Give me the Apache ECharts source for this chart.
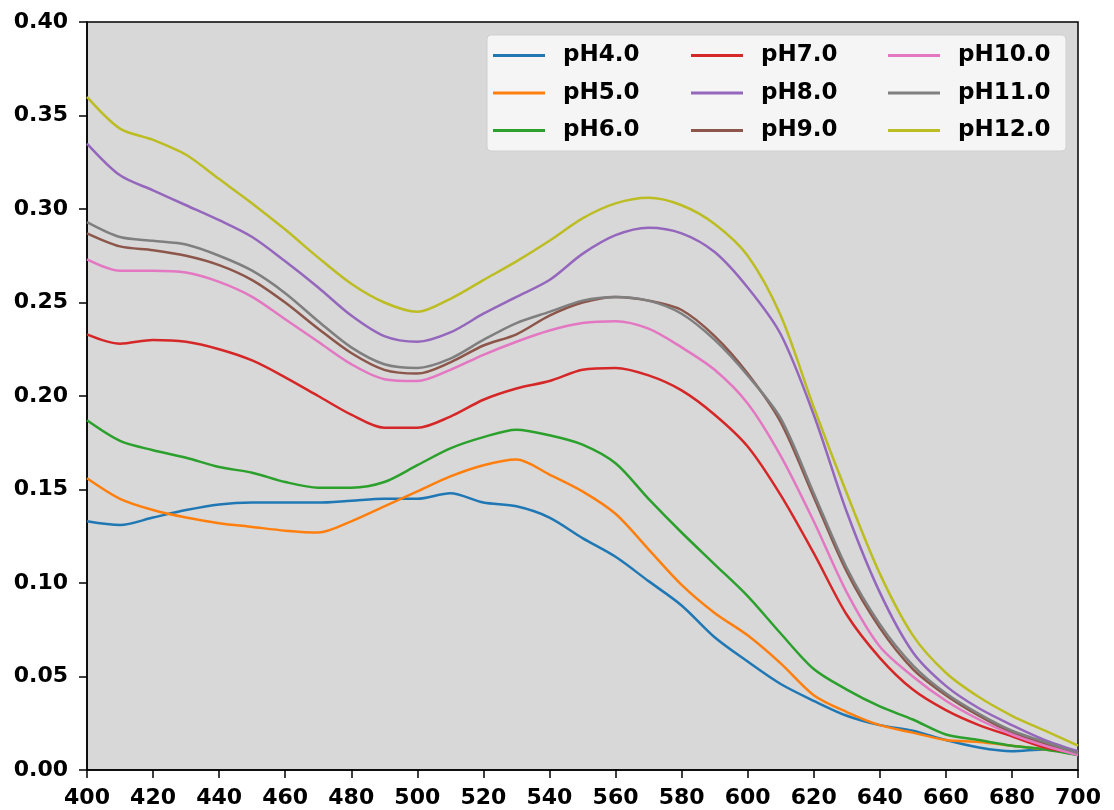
<!DOCTYPE html>
<html>
<head>
<meta charset="utf-8">
<script src="https://cdn.jsdelivr.net/npm/echarts@6/dist/echarts.min.js"></script>
<style>html,body{margin:0;padding:0;background:#fff}#c{width:1114px;height:810px}</style>
</head>
<body>
<div id="c"></div>
<script>
const wavelengths = [400,410,420,430,440,450,460,470,480,490,500,510,520,530,540,550,560,570,580,590,600,610,620,630,640,650,660,670,680,690,700];
const seriesNames = ['pH4.0','pH5.0','pH6.0','pH7.0','pH8.0','pH9.0','pH10.0','pH11.0','pH12.0'];
const pH4 = [0.133,0.131,0.135,0.139,0.142,0.143,0.143,0.143,0.144,0.145,0.145,0.148,0.143,0.141,0.135,0.124,0.114,0.101,0.088,0.071,0.058,0.046,0.037,0.029,0.024,0.021,0.016,0.012,0.010,0.011,0.008];
const pH5 = [0.156,0.145,0.139,0.135,0.132,0.130,0.128,0.127,0.133,0.141,0.149,0.157,0.163,0.166,0.158,0.149,0.137,0.118,0.099,0.084,0.072,0.057,0.040,0.031,0.024,0.020,0.016,0.015,0.013,0.011,0.009];
const pH6 = [0.187,0.176,0.171,0.167,0.162,0.159,0.154,0.151,0.151,0.154,0.163,0.172,0.178,0.182,0.179,0.174,0.164,0.145,0.127,0.110,0.093,0.073,0.054,0.043,0.034,0.027,0.019,0.016,0.013,0.011,0.008];
const pH7 = [0.233,0.228,0.230,0.229,0.225,0.219,0.210,0.200,0.190,0.183,0.183,0.189,0.198,0.204,0.208,0.214,0.215,0.211,0.203,0.190,0.173,0.147,0.116,0.083,0.060,0.043,0.032,0.024,0.018,0.012,0.009];
const pH8 = [0.335,0.318,0.310,0.302,0.294,0.285,0.272,0.258,0.243,0.232,0.229,0.234,0.244,0.253,0.262,0.276,0.286,0.290,0.287,0.277,0.258,0.233,0.190,0.138,0.095,0.063,0.045,0.033,0.024,0.016,0.010];
const pH9 = [0.287,0.280,0.278,0.275,0.270,0.262,0.250,0.236,0.223,0.214,0.212,0.218,0.227,0.233,0.243,0.250,0.253,0.251,0.246,0.232,0.212,0.186,0.146,0.106,0.076,0.054,0.040,0.029,0.020,0.014,0.009];
const pH10 = [0.273,0.267,0.267,0.266,0.261,0.253,0.241,0.229,0.217,0.209,0.208,0.214,0.222,0.229,0.235,0.239,0.240,0.236,0.226,0.214,0.196,0.168,0.133,0.095,0.066,0.050,0.037,0.027,0.019,0.013,0.008];
const pH11 = [0.293,0.285,0.283,0.281,0.275,0.267,0.255,0.240,0.226,0.217,0.215,0.220,0.230,0.239,0.245,0.251,0.253,0.251,0.244,0.230,0.211,0.188,0.148,0.108,0.078,0.056,0.041,0.030,0.021,0.015,0.009];
const pH12 = [0.360,0.343,0.337,0.329,0.316,0.303,0.289,0.274,0.260,0.250,0.245,0.252,0.262,0.272,0.283,0.295,0.303,0.306,0.302,0.292,0.275,0.243,0.194,0.148,0.105,0.072,0.052,0.039,0.029,0.021,0.013];
const colors = ['#1f77b4','#ff7f0e','#2ca02c','#d62728','#9467bd','#8c564b','#e377c2','#7f7f7f','#bcbd22'];
const allValues = [pH4,pH5,pH6,pH7,pH8,pH9,pH10,pH11,pH12];

const FONT = 'DejaVu Sans';
const chart = echarts.init(document.getElementById('c'), null, {renderer:'canvas'});
const legendText = {fontFamily: FONT, fontWeight: 'bold', fontSize: 23, color: '#000', padding: [0,0,0,13]};
function mkLegend(names, left){
  return {
    orient: 'vertical', left: left, top: 44, itemWidth: 52, itemHeight: 3, itemGap: 14.5,
    icon: 'rect', textStyle: legendText, data: names, selectedMode: false, padding: 0
  };
}
chart.setOption({
  animation: false,
  color: colors,
  grid: {left: 87, right: 36, top: 22, bottom: 40, show: true, backgroundColor: '#d8d8d8', borderColor: '#000', borderWidth: 1.5},
  xAxis: {
    type: 'value', min: 400, max: 700, interval: 20,
    axisLine: {show: true, lineStyle: {color: '#000', width: 1.5}},
    axisTick: {show: true, length: 8, lineStyle: {color: '#000', width: 1.5}},
    axisLabel: {fontFamily: FONT, fontWeight: 'bold', fontSize: 22, color: '#000', margin: 17},
    splitLine: {show: false}
  },
  yAxis: {
    type: 'value', min: 0, max: 0.4, interval: 0.05,
    axisLine: {show: true, lineStyle: {color: '#000', width: 1.5}},
    axisTick: {show: true, length: 8, lineStyle: {color: '#000', width: 1.5}},
    axisLabel: {fontFamily: FONT, fontWeight: 'bold', fontSize: 22, color: '#000', margin: 19, formatter: v => v.toFixed(2)},
    splitLine: {show: false}
  },
  graphic: [{
    type: 'rect', shape: {x: 487, y: 35, width: 579, height: 116, r: 4}, z: 3,
    style: {fill: 'rgba(250,250,250,0.85)', stroke: '#cfcfcf', lineWidth: 1}
  }],
  legend: [
    mkLegend(seriesNames.slice(0,3), 493),
    mkLegend(seriesNames.slice(3,6), 691),
    mkLegend(seriesNames.slice(6,9), 888)
  ],
  series: seriesNames.map((n, i) => ({
    name: n, type: 'line', showSymbol: false, symbol: 'none', smooth: 0.3,
    lineStyle: {width: 2.5, color: colors[i]}, itemStyle: {color: colors[i]},
    data: wavelengths.map((w, k) => [w, allValues[i][k]]), z: 2
  }))
});
</script>
</body>
</html>
